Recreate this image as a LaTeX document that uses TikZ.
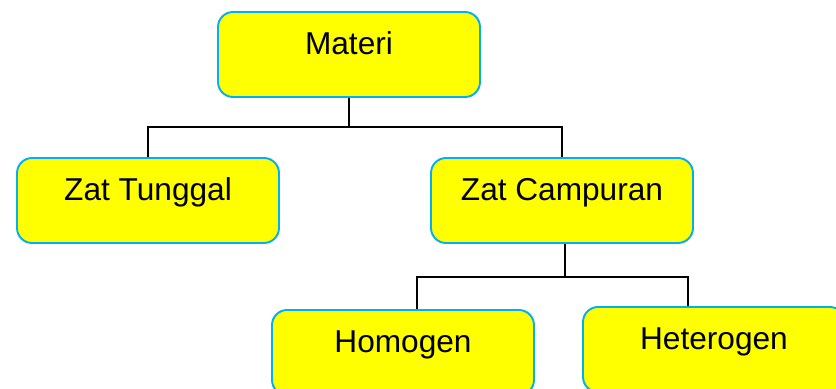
\documentclass[tikz,border=0pt]{standalone}
\usepackage{fontspec}
\setmainfont{Liberation Sans}
\definecolor{birumuda}{RGB}{0,176,240}
\definecolor{kuning}{RGB}{255,255,0}
\begin{document}
\begin{tikzpicture}[%
  x=0.02cm, y=-0.02cm,
  kotak/.style={draw=birumuda, fill=kuning, line width=1.1pt,
    rounded corners=0.3cm, minimum width=5.24cm, minimum height=1.7cm,
    text height=0.3cm, text depth=0.3cm, font=\fontsize{18}{21}\selectfont},
  garis/.style={line width=1pt}]
\clip (0,0) rectangle (836,389);
\node[kotak] (materi) at (349,54.5) {Materi};
\node[kotak] (tunggal) at (148,200.5) {Zat Tunggal};
\node[kotak] (campuran) at (562,200.5) {Zat Campuran};
\node[kotak] (homogen) at (403,352.5) {Homogen};
\node[kotak] (heterogen) at (714,349.5) {Heterogen};
% cabang
\coordinate (cab1) at (349,127);
\coordinate (cab2) at (565,277);
\coordinate (kiri) at (417,277);
\coordinate (kanan) at (688,277);
\draw[garis] (materi.south) -- (cab1);
\draw[garis] (tunggal.north) |- (cab1) -| (campuran.north);
\draw[garis] (cab2 |- campuran.south) -- (cab2);
\draw[garis] (kiri |- homogen.north) -- (kiri) -- (kanan) -- (kanan |- heterogen.north);
\end{tikzpicture}
\end{document}
